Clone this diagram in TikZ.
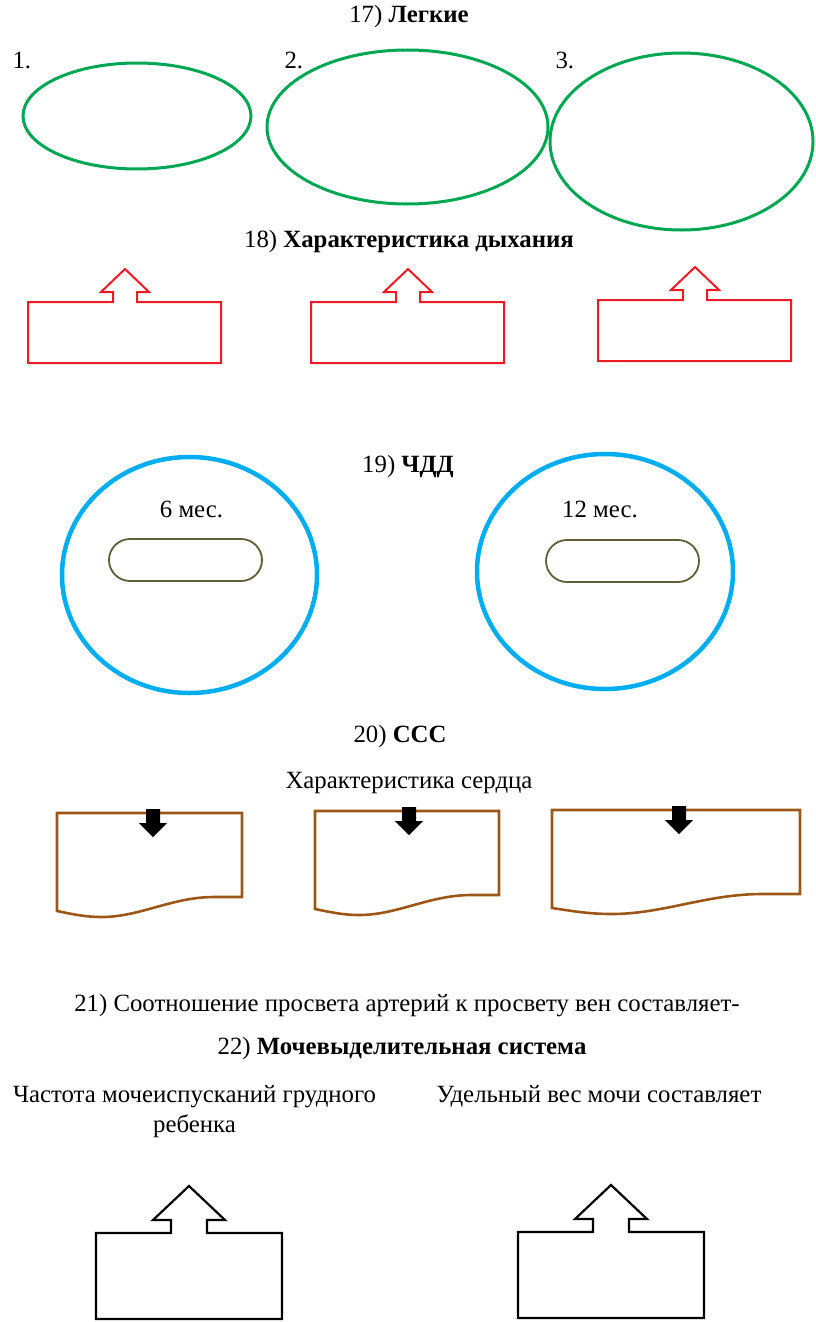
\documentclass[tikz,border=0pt]{standalone}
\usepackage{fontspec}
\setmainfont{Liberation Serif}
\usetikzlibrary{shapes,positioning}
\definecolor{lunggreen}{RGB}{0,166,81}
\definecolor{breathred}{RGB}{237,28,36}
\definecolor{ratebLue}{RGB}{0,174,239}
\definecolor{slotolive}{RGB}{94,94,56}
\definecolor{heartbrown}{RGB}{156,87,24}

\begin{document}
\begin{tikzpicture}[x=1pt, y=-1pt,
    every node/.style={font=\fontsize{24.8}{30}\selectfont},
    lung/.style={draw=lunggreen, line width=3pt, ellipse, inner sep=0pt},
    breath/.style={draw=breathred, line width=2pt},
    rate/.style={draw=ratebLue, line width=4.5pt, ellipse, inner sep=0pt},
    slot/.style={draw=slotolive, line width=1.8pt, rounded rectangle, inner sep=0pt, minimum width=153, minimum height=42},
    heart/.style={draw=heartbrown, line width=2.6pt},
    urine/.style={draw=black, line width=2.2pt}]
    \useasboundingbox (0,0) rectangle (816,1322);

    % 17
    \node [anchor=base] (t17) at (409,23) {17) \textbf{Легкие}};
    \node [lung, minimum width=228, minimum height=106] (lung1) at (137,116) {};
    \node [lung, minimum width=281, minimum height=154] (lung2) at (407.5,127) {};
    \node [lung, minimum width=263, minimum height=177] (lung3) at (681.5,141.5) {};
    \node [anchor=base west] (n1) at (9,68) {1.};
    \node [anchor=base west] (n2) at (281,68) {2.};
    \node [anchor=base west] (n3) at (552,68) {3.};

    % 18
    \node [anchor=base] (t18) at (409,247) {18) \textbf{Характеристика дыхания}};
    \foreach \x/\y in {28/302, 311/302, 598/300} {
        \draw [breath] (\x,\y) -- (\x+85,\y) -- (\x+85,\y-10) -- (\x+73,\y-10) -- (\x+97,\y-33)
            -- (\x+121,\y-10) -- (\x+109,\y-10) -- (\x+109,\y) -- (\x+193,\y) -- (\x+193,\y+61)
            -- (\x,\y+61) -- cycle;
    }

    % 19
    \node [anchor=base] (t19) at (408,472) {19) \textbf{ЧДД}};
    \node [rate, minimum width=255, minimum height=236] (rate6) at (189.5,575) {};
    \node [rate, minimum width=256, minimum height=235] (rate12) at (605,571.5) {};
    \node [slot] (slot6) at (185.5,560) {};
    \node [slot] (slot12) at (622.5,561) {};
    \node [anchor=base] (m6) at (191.5,517) {6 мес.};
    \node [anchor=base] (m12) at (600,517) {12 мес.};

    % 20
    \node [anchor=base] (t20) at (400,742) {20) \textbf{ССС}};
    \node [anchor=base] (heart) at (409,788) {Характеристика сердца};
    \foreach \x/\w/\t/\r/\a in {57/185/813/897/153, 315/184/811/895/409, 552/248/810/894/679} {
        \draw [heart] (\x,\t) -- (\x+\w,\t) -- (\x+\w,\r) -- (\x+0.85*\w,\r)
            .. controls (\x+0.62*\w,\r) and (\x+0.45*\w,\r+20) .. (\x+0.24*\w,\r+20)
            .. controls (\x+0.15*\w,\r+20) and (\x+0.08*\w,\r+17) .. (\x,\r+14) -- cycle;
        \fill (\a-7,\t-4) -- (\a+7,\t-4) -- (\a+7,\t+10) -- (\a+14,\t+10) -- (\a,\t+24)
            -- (\a-14,\t+10) -- (\a-7,\t+10) -- cycle;
    }

    % 21, 22
    \node [anchor=base] (t21) at (407,1011) {21) Соотношение просвета артерий к просвету вен составляет-};
    \node [anchor=base] (t22) at (402,1054) {22) \textbf{Мочевыделительная система}};
    \node [anchor=base, align=center] (freq) at (194.5,1132) {Частота мочеиспусканий грудного\\ребенка};
    \node [anchor=base west] (weight) at (433,1102) {Удельный вес мочи составляет};
    \foreach \x/\y in {96/1233, 518/1232} {
        \draw [urine] (\x,\y) -- (\x+75,\y) -- (\x+75,\y-13) -- (\x+57,\y-13) -- (\x+93,\y-47)
            -- (\x+129,\y-13) -- (\x+111,\y-13) -- (\x+111,\y) -- (\x+186,\y) -- (\x+186,\y+86)
            -- (\x,\y+86) -- cycle;
    }
\end{tikzpicture}
\end{document}
